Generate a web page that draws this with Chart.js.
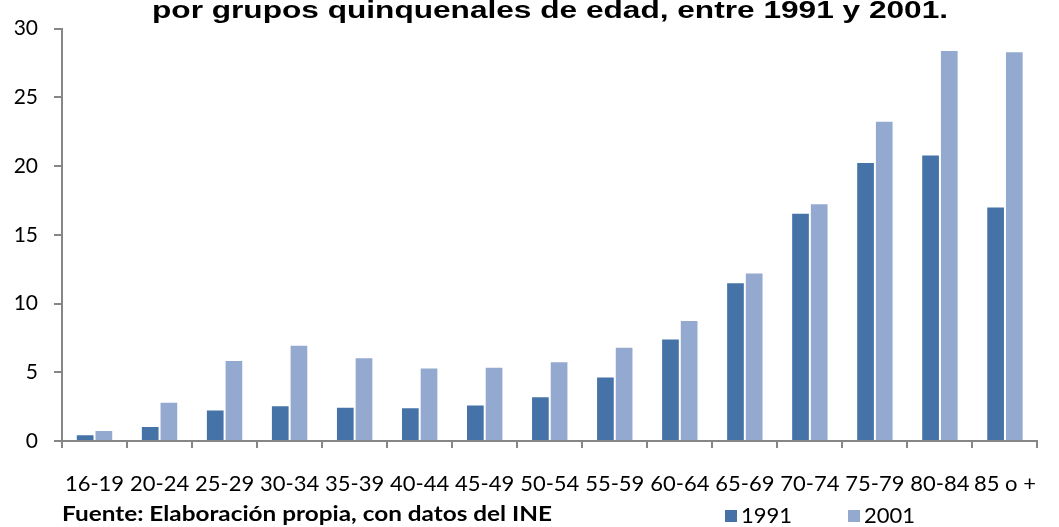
<!DOCTYPE html>
<html><head><meta charset="utf-8">
<script src="https://cdn.jsdelivr.net/npm/chart.js@4.4.1/dist/chart.umd.min.js"></script>
<style>html,body{margin:0;padding:0;background:#fff;}canvas{display:block;}</style>
</head><body>
<canvas id="c" width="1059" height="527"></canvas>
<script>
const categories = ['16-19','20-24','25-29','30-34','35-39','40-44','45-49','50-54','55-59','60-64','65-69','70-74','75-79','80-84','85 o +'];
const values1991 = [0.5,1.1,2.3,2.6,2.5,2.45,2.65,3.25,4.7,7.45,11.55,16.6,20.3,20.85,17.05];
const values2001 = [0.8,2.85,5.9,7.0,6.1,5.35,5.4,5.8,6.85,8.8,12.25,17.3,23.3,28.45,28.35];
const seriesNames = ['1991','2001'];
const yTicks = [0,5,10,15,20,25,30];
const titleText = 'por grupos quinquenales de edad, entre 1991 y 2001.';
const sourceText = 'Fuente: Elaboración propia, con datos del INE';
const colors = ['#4573A7','#94A9D0'];
const FONT = 'Lato, "Open Sans", sans-serif';

const extras = {
  id:'extras',
  afterDraw(chart){
    const ctx = chart.ctx;
    ctx.save();
    ctx.font = 'bold 23px "Liberation Sans", Arial, sans-serif';
    ctx.fillStyle = '#000';
    ctx.textBaseline = 'alphabetic';
    const w = ctx.measureText(titleText).width;
    ctx.translate(550, 18);
    ctx.scale(796 / w, 1);
    ctx.textAlign = 'center';
    ctx.fillText(titleText, 0, 0);
    ctx.restore();
    ctx.save();
    ctx.font = 'bold 20px ' + FONT;
    ctx.fillStyle = '#000';
    ctx.textAlign = 'left';
    ctx.textBaseline = 'middle';
    const sw = ctx.measureText(sourceText).width;
    ctx.translate(62, 515);
    ctx.scale(490 / sw, 1);
    ctx.fillText(sourceText, 0, 0);
    ctx.restore();
    ctx.save();
    ctx.font = '22px ' + FONT;
    ctx.textBaseline = 'middle';
    ctx.textAlign = 'left';
    const lx = [725, 848];
    seriesNames.forEach((n,i)=>{
      ctx.fillStyle = colors[i];
      ctx.fillRect(lx[i], 510, 12, 12);
      ctx.fillStyle = '#000';
      ctx.fillText(n, lx[i] + 16, 516);
    });
    ctx.restore();
  }
};

new Chart(document.getElementById('c'), {
  type:'bar',
  data:{
    labels: categories,
    datasets:[
      {label:seriesNames[0], data:values1991, backgroundColor:colors[0], borderColor:'rgba(255,255,255,0.45)', borderWidth:1},
      {label:seriesNames[1], data:values2001, backgroundColor:colors[1], borderColor:'rgba(255,255,255,0.45)', borderWidth:1}
    ]
  },
  options:{
    responsive:false,
    animation:false,
    events:[],
    datasets:{bar:{categoryPercentage:0.575, barPercentage:1}},
    layout:{padding:{top:26,right:1,left:0,bottom:0}},
    plugins:{legend:{display:false}, title:{display:false}, tooltip:{enabled:false}},
    scales:{
      x:{
        grid:{drawOnChartArea:false, drawTicks:true, tickLength:7, color:'#868686', lineWidth:2, offset:true},
        border:{color:'#868686', width:2},
        ticks:{color:'#000', font:{family:FONT, size:22}, padding:23, maxRotation:0, autoSkip:false},
        afterFit(s){ s.height = 86; }
      },
      y:{
        min:0, max:30,
        afterBuildTicks(s){ s.ticks = yTicks.map(v=>({value:v})); },
        grid:{drawOnChartArea:false, drawTicks:true, tickLength:8, color:'#868686', lineWidth:2},
        border:{color:'#868686', width:2},
        ticks:{color:'#000', font:{family:FONT, size:21}, padding:16},
        afterFit(s){ s.width = 62; }
      }
    }
  },
  plugins:[extras]
});
</script>
</body></html>
